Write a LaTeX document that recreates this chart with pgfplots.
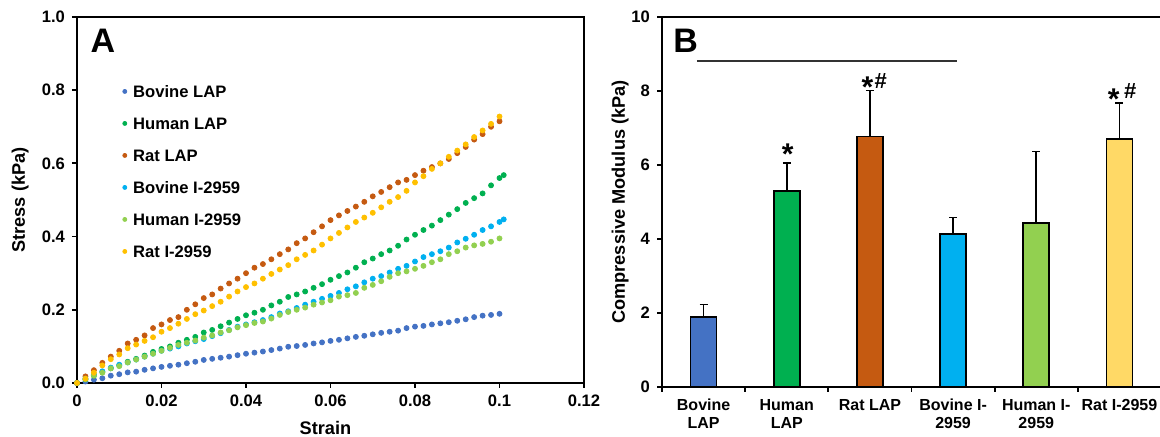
\documentclass[border=0pt]{standalone}
\usepackage{fontspec}
\setmainfont{Liberation Sans}
\usepackage{pgfplots}
\pgfplotsset{compat=1.18}

\definecolor{bovlap}{HTML}{4472C4}
\definecolor{humlap}{HTML}{00B050}
\definecolor{ratlap}{HTML}{C55A11}
\definecolor{bovi}{HTML}{00B0F0}
\definecolor{humi}{HTML}{92D050}
\definecolor{rati}{HTML}{FFC000}
\definecolor{ratibar}{HTML}{FFD966}

\newcommand\tk{\fontsize{8.3}{9.8}\selectfont\bfseries}
\newcommand\lb{\fontsize{9.1}{10}\selectfont\bfseries}

\pgfplotsset{
  panel/.style={
    scale only axis, anchor=south west,
    axis line style={line width=1pt},
    tick pos=left, tick align=outside, major tick length=2.5pt,
    tick style={line width=0.9pt, black},
    tick label style={font=\tk},
    /pgf/number format/assume math mode=true,
  },
}

\begin{document}
\begin{tikzpicture}
\path[use as bounding box] (0,0) rectangle (580pt,218.5pt);

% panel A: stress-strain
\begin{axis}[panel,
  at={(38.5pt,27pt)}, width=253.5pt, height=183pt,
  xmin=0, xmax=0.12, ymin=0, ymax=1,
  xtick={0,0.02,0.04,0.06,0.08,0.1,0.12},
  ytick={0,0.2,0.4,0.6,0.8,1.0},
  xticklabel style={/pgf/number format/fixed, /pgf/number format/precision=2},
  yticklabel style={/pgf/number format/fixed, /pgf/number format/fixed zerofill, /pgf/number format/precision=1},
  clip=false,
  xlabel={Strain}, ylabel={Stress (kPa)},
  every axis x label/.style={at={(axis description cs:0.49,-0.123)}, anchor=center, font=\lb},
  every axis y label/.style={at={(axis description cs:-0.112,0.5)}, rotate=90, anchor=center, font=\lb},
  legend style={at={(axis description cs:0.073,0.825)}, anchor=north west, draw=none, fill=none,
    font=\tk, row sep=10pt, column sep=2pt,
    nodes={inner sep=0pt, text height=6pt, text depth=0pt}},
  legend cell align=left,
  legend image code/.code={\path (-2pt,0pt) (2pt,0pt); \draw[#1, mark size=1pt] plot coordinates {(0pt,0pt)};},
  every axis plot/.append style={only marks, mark=*, mark size=1.25pt},
]
\addplot[bovlap, mark options={draw=bovlap, fill=bovlap}] coordinates {
(0,0) (0.002,0.004) (0.004,0.009) (0.006,0.013) (0.008,0.020) (0.010,0.024)
(0.012,0.029) (0.014,0.031) (0.016,0.036) (0.018,0.040) (0.020,0.044)
(0.022,0.047) (0.024,0.050) (0.026,0.054) (0.028,0.058) (0.030,0.063)
(0.032,0.066) (0.034,0.069) (0.036,0.072) (0.038,0.076) (0.040,0.080)
(0.042,0.083) (0.044,0.086) (0.046,0.090) (0.048,0.094) (0.050,0.099)
(0.052,0.101) (0.054,0.104) (0.056,0.108) (0.058,0.111) (0.060,0.115)
(0.062,0.118) (0.064,0.122) (0.066,0.126) (0.068,0.129) (0.070,0.133)
(0.072,0.137) (0.074,0.140) (0.076,0.143) (0.078,0.150) (0.080,0.154)
(0.082,0.156) (0.084,0.160) (0.086,0.163) (0.088,0.166) (0.090,0.170)
(0.092,0.174) (0.094,0.180) (0.096,0.184) (0.098,0.186) (0.100,0.189)
};
\addlegendentry{Bovine LAP}
\addplot[humlap, mark options={draw=humlap, fill=humlap}] coordinates {
(0,0) (0.002,0.010) (0.004,0.020) (0.006,0.030) (0.008,0.040) (0.010,0.048)
(0.012,0.058) (0.014,0.066) (0.016,0.075) (0.018,0.085) (0.020,0.093)
(0.022,0.100) (0.024,0.110) (0.026,0.118) (0.028,0.126) (0.030,0.138)
(0.032,0.145) (0.034,0.155) (0.036,0.165) (0.038,0.175) (0.040,0.185)
(0.042,0.192) (0.044,0.200) (0.046,0.212) (0.048,0.222) (0.050,0.235)
(0.052,0.242) (0.054,0.250) (0.056,0.260) (0.058,0.270) (0.060,0.282)
(0.062,0.292) (0.064,0.302) (0.066,0.315) (0.068,0.330) (0.070,0.340)
(0.072,0.352) (0.074,0.362) (0.076,0.375) (0.078,0.392) (0.080,0.405)
(0.082,0.418) (0.084,0.430) (0.086,0.445) (0.088,0.460) (0.090,0.475)
(0.092,0.492) (0.094,0.505) (0.096,0.518) (0.098,0.540) (0.100,0.560) (0.101,0.568)
};
\addlegendentry{Human LAP}
\addplot[ratlap, mark options={draw=ratlap, fill=ratlap}] coordinates {
(0,0) (0.002,0.018) (0.004,0.035) (0.006,0.055) (0.008,0.072) (0.010,0.088)
(0.012,0.108) (0.014,0.118) (0.016,0.130) (0.018,0.150) (0.020,0.160)
(0.022,0.172) (0.024,0.180) (0.026,0.200) (0.028,0.215) (0.030,0.232)
(0.032,0.242) (0.034,0.258) (0.036,0.272) (0.038,0.285) (0.040,0.300)
(0.042,0.315) (0.044,0.325) (0.046,0.338) (0.048,0.352) (0.050,0.365)
(0.052,0.382) (0.054,0.395) (0.056,0.412) (0.058,0.428) (0.060,0.445)
(0.062,0.458) (0.064,0.470) (0.066,0.482) (0.068,0.495) (0.070,0.510)
(0.072,0.522) (0.074,0.535) (0.076,0.548) (0.078,0.555) (0.080,0.568)
(0.082,0.580) (0.084,0.590) (0.086,0.600) (0.088,0.612) (0.090,0.628)
(0.092,0.645) (0.094,0.665) (0.096,0.680) (0.098,0.700) (0.100,0.715)
};
\addlegendentry{Rat LAP}
\addplot[bovi, mark options={draw=bovi, fill=bovi}] coordinates {
(0,0) (0.002,0.012) (0.004,0.024) (0.006,0.032) (0.008,0.042) (0.010,0.050)
(0.012,0.056) (0.014,0.064) (0.016,0.072) (0.018,0.080) (0.020,0.088)
(0.022,0.094) (0.024,0.100) (0.026,0.108) (0.028,0.114) (0.030,0.120)
(0.032,0.128) (0.034,0.136) (0.036,0.145) (0.038,0.154) (0.040,0.160)
(0.042,0.166) (0.044,0.172) (0.046,0.180) (0.048,0.190) (0.050,0.196)
(0.052,0.205) (0.054,0.214) (0.056,0.222) (0.058,0.230) (0.060,0.238)
(0.062,0.246) (0.064,0.256) (0.066,0.264) (0.068,0.275) (0.070,0.285)
(0.072,0.292) (0.074,0.302) (0.076,0.312) (0.078,0.320) (0.080,0.332)
(0.082,0.344) (0.084,0.352) (0.086,0.360) (0.088,0.370) (0.090,0.384)
(0.092,0.394) (0.094,0.405) (0.096,0.418) (0.098,0.428) (0.100,0.440) (0.101,0.447)
};
\addlegendentry{Bovine I-2959}
\addplot[humi, mark options={draw=humi, fill=humi}] coordinates {
(0,0) (0.002,0.010) (0.004,0.020) (0.006,0.028) (0.008,0.040) (0.010,0.046)
(0.012,0.056) (0.014,0.064) (0.016,0.072) (0.018,0.080) (0.020,0.088)
(0.022,0.096) (0.024,0.104) (0.026,0.110) (0.028,0.116) (0.030,0.124)
(0.032,0.130) (0.034,0.138) (0.036,0.144) (0.038,0.152) (0.040,0.158)
(0.042,0.164) (0.044,0.168) (0.046,0.176) (0.048,0.186) (0.050,0.194)
(0.052,0.200) (0.054,0.206) (0.056,0.214) (0.058,0.220) (0.060,0.226)
(0.062,0.236) (0.064,0.240) (0.066,0.246) (0.068,0.260) (0.070,0.268)
(0.072,0.278) (0.074,0.290) (0.076,0.300) (0.078,0.305) (0.080,0.312)
(0.082,0.320) (0.084,0.330) (0.086,0.338) (0.088,0.352) (0.090,0.360)
(0.092,0.370) (0.094,0.376) (0.096,0.380) (0.098,0.386) (0.100,0.395)
};
\addlegendentry{Human I-2959}
\addplot[rati, mark options={draw=rati, fill=rati}] coordinates {
(0,0) (0.002,0.012) (0.004,0.028) (0.006,0.048) (0.008,0.065) (0.010,0.078)
(0.012,0.095) (0.014,0.105) (0.016,0.115) (0.018,0.125) (0.020,0.140)
(0.022,0.150) (0.024,0.162) (0.026,0.175) (0.028,0.188) (0.030,0.198)
(0.032,0.210) (0.034,0.222) (0.036,0.236) (0.038,0.250) (0.040,0.262)
(0.042,0.272) (0.044,0.285) (0.046,0.298) (0.048,0.310) (0.050,0.322)
(0.052,0.338) (0.054,0.350) (0.056,0.362) (0.058,0.378) (0.060,0.395)
(0.062,0.410) (0.064,0.425) (0.066,0.440) (0.068,0.452) (0.070,0.465)
(0.072,0.480) (0.074,0.495) (0.076,0.508) (0.078,0.525) (0.080,0.548)
(0.082,0.565) (0.084,0.585) (0.086,0.600) (0.088,0.618) (0.090,0.635)
(0.092,0.652) (0.094,0.672) (0.096,0.690) (0.098,0.708) (0.100,0.728)
};
\addlegendentry{Rat I-2959}
\node[anchor=base west, inner sep=0pt, font=\fontsize{17}{17}\selectfont\bfseries]
  at (rel axis cs:0.026,0.904) {A};
\end{axis}

% panel B: compressive modulus
\begin{axis}[panel,
  at={(331pt,25pt)}, width=249.5pt, height=185pt,
  xmin=0.5, xmax=6.5, ymin=0, ymax=10,
  ytick={0,2,4,6,8,10},
  xtick={0.5,1.5,2.5,3.5,4.5,5.5,6.5},
  x tick label as interval,
  xticklabels={{Bovine\\LAP},{Human\\LAP},{Rat LAP},{Bovine I-\\2959},{Human I-\\2959},{Rat I-2959}},
  xticklabel style={align=center, font=\fontsize{8}{9}\selectfont\bfseries},
  ylabel={Compressive Modulus (kPa)},
  every axis y label/.style={at={(axis description cs:-0.084,0.5)}, rotate=90, anchor=center, font=\lb},
  ybar, bar width=13pt, bar shift=0pt,
  every axis plot/.append style={draw=black, line width=0.8pt,
    error bars/y dir=plus, error bars/y explicit,
    error bars/error bar style={line width=0.8pt, black},
    error bars/error mark options={rotate=90, mark size=2pt, line width=0.8pt, black}},
  clip=false,
]
\addplot[fill=bovlap] coordinates {(1,1.89) +- (0,0.34)};
\addplot[fill=humlap] coordinates {(2,5.30) +- (0,0.75)};
\addplot[fill=ratlap] coordinates {(3,6.77) +- (0,1.24)};
\addplot[fill=bovi] coordinates {(4,4.14) +- (0,0.44)};
\addplot[fill=humi] coordinates {(5,4.43) +- (0,1.93)};
\addplot[fill=ratibar] coordinates {(6,6.71) +- (0,0.96)};
\draw[line width=0.6pt, black!80] (axis cs:0.92,8.81) -- (axis cs:4.05,8.81);
\node[anchor=base west, inner sep=0pt, font=\fontsize{17}{17}\selectfont\bfseries]
  at (rel axis cs:0.022,0.903) {B};
\node[anchor=base, inner sep=0pt, font=\fontsize{15}{15}\selectfont\bfseries] at (axis cs:2.01,6.0) {*};
\node[anchor=base, inner sep=0pt, font=\fontsize{15}{15}\selectfont\bfseries] at (axis cs:2.97,7.82) {*};
\node[anchor=base, inner sep=0pt, font=\fontsize{11}{11}\selectfont\bfseries] at (axis cs:3.13,8.08) {\#};
\node[anchor=base, inner sep=0pt, font=\fontsize{15}{15}\selectfont\bfseries] at (axis cs:5.93,7.50) {*};
\node[anchor=base, inner sep=0pt, font=\fontsize{11}{11}\selectfont\bfseries] at (axis cs:6.13,7.81) {\#};
\end{axis}
\end{tikzpicture}
\end{document}
